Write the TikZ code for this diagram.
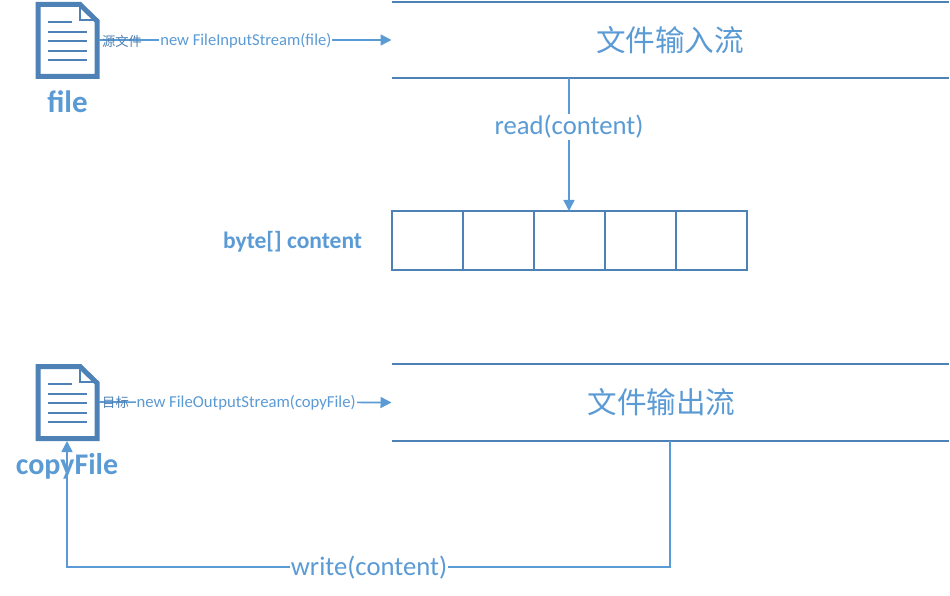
\documentclass[tikz,border=0pt]{standalone}
\usepackage{fontspec}
\setmainfont{Carlito}
\newfontfamily\cjk{Noto Sans CJK SC}
\usetikzlibrary{arrows.meta}
\definecolor{linkblue}{HTML}{5B9BD5}
\definecolor{edgeblue}{HTML}{4E81B5}
\tikzset{
  x=1pt,y=-1pt,
  band/.style={minimum width=557pt,inner sep=0pt,outer sep=0pt},
  bandline/.style={draw=edgeblue,line width=2pt},
  cellbox/.style={draw=edgeblue,line width=2pt,minimum width=71pt,minimum height=59pt,inner sep=0pt,outer sep=0pt},
  arrowline/.style={draw=linkblue,line width=1.6pt,-{Triangle[length=11pt,width=11pt]}},
  wlabel/.style={fill=white,text=linkblue,inner sep=1pt,font=\fontsize{#1}{#1}\selectfont},
  title/.style={text=linkblue,inner sep=0pt,font=\fontsize{#1}{#1}\selectfont\cjk},
  boldlabel/.style={text=linkblue,inner sep=0pt,font=\fontsize{#1}{#1}\selectfont\bfseries},
  small/.style={text=edgeblue,inner sep=0pt,font=\fontsize{13.3}{14}\selectfont\cjk},
  docicon/.pic={
    \draw[edgeblue,line width=5pt,fill=white,miter limit=4] (38,4.5) -- (80,4.5) -- (97,21) -- (97,76.5) -- (38,76.5) -- cycle;
    \draw[edgeblue,line width=2.5pt] (80,4.5) -- (80,20) -- (97,20);
    \draw[edgeblue,line width=2pt] (48,22) -- (72,22) (48,32) -- (87,32) (48,41) -- (87,41) (48,51) -- (87,51) (48,60) -- (87,60);
  }
}
\begin{document}
\begin{tikzpicture}
\useasboundingbox (0,0) rectangle (950,596);
\fill[white] (0,0) rectangle (950,596);

% icons
\pic at (0,0) {docicon};
\pic at (0,362) {docicon};
\coordinate (fileout) at (99,40);
\coordinate (copyout) at (99,402);
\coordinate (copyin) at (67,441);

% bands
\node[band,minimum height=76pt] (instream) at (670,40) {};
\node[band,minimum height=77pt] (outstream) at (670,402.5) {};
\draw[bandline] (instream.north west) -- (instream.north east) (instream.south west) -- (instream.south east);
\draw[bandline] (outstream.north west) -- (outstream.north east) (outstream.south west) -- (outstream.south east);
\node[title=29.6] (intitle) at (670,40) {文件输入流};
\node[title=29.6] (outtitle) at (661.5,402) {文件输出流};

% byte array
\node[cellbox] (c1) at (427,240.5) {};
\node[cellbox] (c2) at (498,240.5) {};
\node[cellbox] (c3) at (569,240.5) {};
\node[cellbox] (c4) at (640,240.5) {};
\node[cellbox] (c5) at (711,240.5) {};
\node[boldlabel=23.5] (bytelabel) at (292.5,241.5) {byte[] content};

% arrows
\draw[arrowline] (fileout) -- (instream.west) node[wlabel=16.6,pos=0.502,yshift=-1pt] (newin) {new FileInputStream(file)};
\draw[arrowline] (copyout) -- (outstream.west) node[wlabel=16.7,pos=0.503,yshift=-0.5pt] (newout) {new FileOutputStream(copyFile)};
\draw[arrowline] (instream.south -| c3.north) -- (c3.north) node[wlabel=26.7,pos=0.365,inner xsep=0pt,yshift=-0.5pt] (readlabel) {read(content)};
\coordinate (turnr) at (670,567);
\coordinate (turnl) at (67,567);
\draw[arrowline] (outstream.south) -- (turnr) -- (turnl) -- (copyin);
\node[wlabel=26.7,inner xsep=1pt,inner ysep=0pt] (writelabel) at (369,568) {write(content)};

% texts over the arrows
\node[small] (srclabel) at (122,41) {源文件};
\node[small] (dstlabel) at (115.5,402.5) {目标};
\node[boldlabel=31] (filelabel) at (67.5,102) {file};
\node[boldlabel=30] (copylabel) at (67,466.5) {copyFile};
\end{tikzpicture}
\end{document}
